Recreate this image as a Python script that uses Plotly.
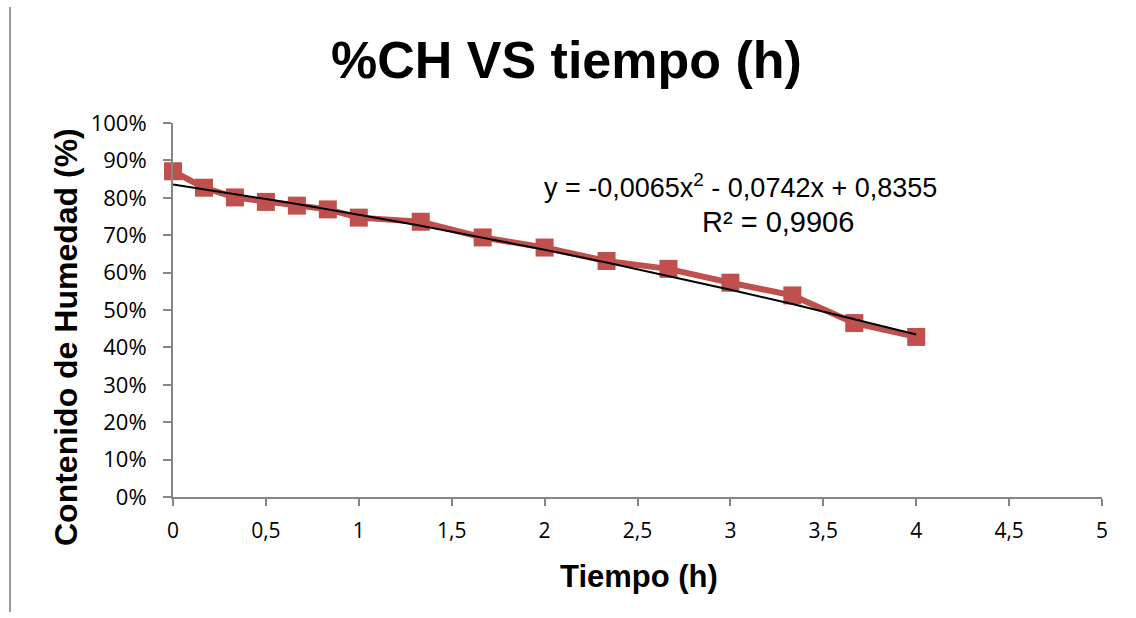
import plotly.graph_objects as go

# Drying time (hours) and moisture content (fraction)
tiempo_h = [0, 1/6, 2/6, 3/6, 4/6, 5/6, 1, 4/3, 5/3, 2, 7/3, 8/3, 3, 10/3, 11/3, 4]
humedad = [0.871, 0.827, 0.801, 0.789, 0.779, 0.769, 0.747, 0.736,
           0.694, 0.667, 0.631, 0.610, 0.573, 0.539, 0.465, 0.428]

# Polynomial trendline coefficients (a*x^2 + b*x + c) and fit quality
coef_a, coef_b, coef_c = -0.0065, -0.0742, 0.8355
r2_text = "0,9906"

x_tick_vals = [0, 0.5, 1, 1.5, 2, 2.5, 3, 3.5, 4, 4.5, 5]
x_tick_text = ["0", "0,5", "1", "1,5", "2", "2,5", "3", "3,5", "4", "4,5", "5"]
y_tick_vals = [0, 0.1, 0.2, 0.3, 0.4, 0.5, 0.6, 0.7, 0.8, 0.9, 1.0]

W, H = 1136, 618
ML, MR, MT, MB = 173, 34, 123, 121

def px_x(p):
    return (p - ML) / (W - ML - MR)

def px_y(p):
    return (H - MB - p) / (H - MT - MB)

trend_y = [coef_a * x * x + coef_b * x + coef_c for x in tiempo_h]

red = "#C0504D"
axis_gray = "#868686"

fig = go.Figure()
fig.add_trace(go.Scatter(
    x=tiempo_h, y=humedad, mode="lines+markers",
    line=dict(color=red, width=6),
    marker=dict(symbol="square", size=18, color=red, line=dict(color=red, width=0)),
    cliponaxis=False, showlegend=False, hoverinfo="x+y",
))
fig.add_trace(go.Scatter(
    x=tiempo_h, y=trend_y, mode="lines",
    line=dict(color="black", width=2),
    cliponaxis=False, showlegend=False, hoverinfo="skip",
))

fig.update_layout(
    width=W, height=H,
    margin=dict(l=ML, r=MR, t=MT, b=MB, autoexpand=False),
    paper_bgcolor="white", plot_bgcolor="white",
    font=dict(family="Open Sans", color="black"),
    showlegend=False,
)
fig.update_xaxes(
    range=[0, 5], tickvals=x_tick_vals, ticktext=x_tick_text,
    showgrid=False, zeroline=False, showline=True, linecolor=axis_gray, linewidth=2,
    ticks="outside", ticklen=7, tickwidth=2, tickcolor=axis_gray,
    tickfont=dict(family="Open Sans", size=21, color="black"),
    ticklabelstandoff=7,
)
fig.update_yaxes(
    range=[0, 1], tickvals=y_tick_vals, tickformat=".0%",
    showgrid=False, zeroline=False, showline=True, linecolor=axis_gray, linewidth=2,
    ticks="outside", ticklen=8, tickwidth=2, tickcolor=axis_gray,
    tickfont=dict(family="Open Sans", size=22, color="black"),
    ticklabelstandoff=12,
)

arial_b = dict(family="Liberation Sans", color="black")
annotations = [
    dict(text="<b>%CH VS tiempo (h)</b>", x=px_x(566), y=px_y(60),
         font=dict(size=52, **arial_b)),
    dict(text="<b>Tiempo (h)</b>", x=px_x(639), y=px_y(576),
         font=dict(size=31, **arial_b)),
    dict(text="<b>Contenido de Humedad (%)</b>", x=px_x(66), y=px_y(337),
         textangle=-90, font=dict(size=32, **arial_b)),
    dict(text="y = -0,0065x<sup>2</sup> - 0,0742x + 0,8355", x=px_x(740), y=px_y(186),
         font=dict(size=27, family="Liberation Sans", color="black")),
    dict(text="R² = " + r2_text, x=px_x(778), y=px_y(222),
         font=dict(size=29, family="Liberation Sans", color="black")),
]
for a in annotations:
    a.update(xref="paper", yref="paper", showarrow=False,
             xanchor="center", yanchor="middle")
fig.update_layout(annotations=annotations)

# Thin frame edge on the left side of the page
fig.add_shape(type="line", xref="paper", yref="paper",
              x0=px_x(10), x1=px_x(10), y0=px_y(7), y1=px_y(612),
              line=dict(color="#9a9a9a", width=2))

fig.write_html("out.html")
